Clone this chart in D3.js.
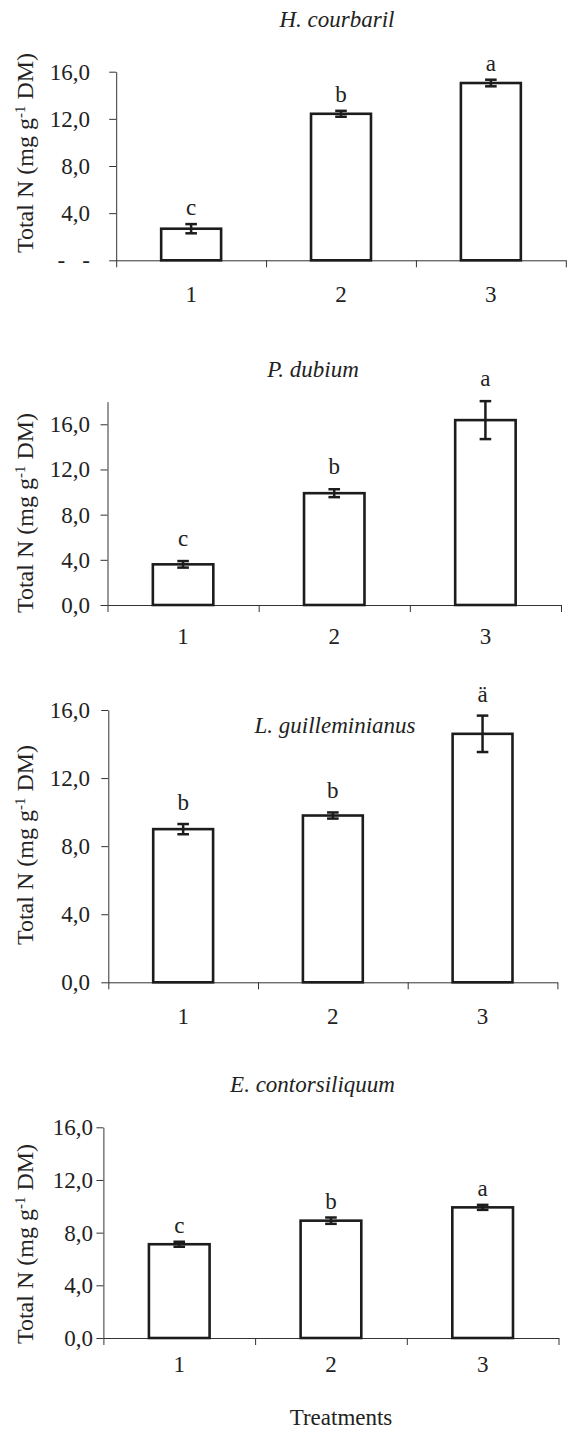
<!DOCTYPE html>
<html><head><meta charset="utf-8">
<script src="https://cdn.jsdelivr.net/npm/d3@7"></script>
<style>
html,body{margin:0;padding:0;background:#fff;}
svg{display:block;}
text{font-family:"Liberation Serif","Times New Roman",serif;fill:#222;}
</style></head>
<body>
<svg id="c" width="571" height="1429"></svg>
<script>
// ---- data ----
const categories = ["1", "2", "3"];
const species = ["H. courbaril", "P. dubium", "L. guilleminianus", "E. contorsiliquum"];
const meansHc = [2.68, 12.43, 15.04];
const errHc   = [0.39, 0.25, 0.28];
const letHc   = ["c", "b", "a"];
const meansPd = [3.6, 9.9, 16.37];
const errPd   = [0.29, 0.35, 1.68];
const letPd   = ["c", "b", "a"];
const meansLg = [9.0, 9.8, 14.6];
const errLg   = [0.3, 0.18, 1.07];
const letLg   = ["b", "b", "ä"];
const meansEc = [7.12, 8.91, 9.92];
const errEc   = [0.19, 0.24, 0.19];
const letEc   = ["c", "b", "a"];
const yTickValues = [0, 4, 8, 12, 16];
const yTickLabels = ["0,0", "4,0", "8,0", "12,0", "16,0"];
const yTickLabelsHc = ["-\u2002 -", "4,0", "8,0", "12,0", "16,0"];
const yMax = [16, 18, 16, 16];
const yTitle = "Total N (mg g";
const yTitleSup = "-1";
const yTitleEnd = " DM)";
const xTitle = "Treatments";

// ---- layout (positions only) ----
const layout = [
  {x0:116.2, x1:565.8, yTop:71.7,  yBot:260.3,  tx:337,   ty:27,     labR:90, ytc:153,  xlo:41.5, ld:9},
  {x0:107.5, x1:561,   yTop:401.7, yBot:605,    tx:313,   ty:377,    labR:90, ytc:513,  xlo:38.5, ld:15},
  {x0:108.3, x1:557.4, yTop:710,   yBot:982.3,  tx:335,   ty:733,    labR:90, ytc:845,  xlo:41.5, ld:14},
  {x0:103.4, x1:558.5, yTop:1127.3,yBot:1338,   tx:312.5, ty:1091.7, labR:93, ytc:1244, xlo:34,   ld:9}
];
const panels = [
  {means: meansHc, errs: errHc, letters: letHc, ticks: yTickLabelsHc},
  {means: meansPd, errs: errPd, letters: letPd, ticks: yTickLabels},
  {means: meansLg, errs: errLg, letters: letLg, ticks: yTickLabels},
  {means: meansEc, errs: errEc, letters: letEc, ticks: yTickLabels}
];

const svg = d3.select("#c");
const FS = 23;
const axisColor = "#333";
const barColor = "#1c1c1c";

panels.forEach((p, i) => {
  const L = layout[i];
  const g = svg.append("g");
  const x = d3.scaleBand().domain(categories).range([L.x0, L.x1]).padding(0);
  const xb = d3.scaleLinear().domain([0, categories.length]).range([L.x0, L.x1]);
  const y = d3.scaleLinear().domain([0, yMax[i]]).range([L.yBot, L.yTop]);
  const bw = x.bandwidth() * 0.4;

  // y axis
  const tickLen = 7;
  const ya = g.append("g").attr("transform", `translate(${L.x0},0)`)
    .call(d3.axisLeft(y).tickValues(yTickValues)
      .tickFormat((d, k) => p.ticks[k])
      .tickSize(tickLen).tickSizeOuter(0)
      .tickPadding(L.x0 - tickLen - L.labR));
  ya.selectAll("path,line").attr("stroke", axisColor).attr("stroke-width", 1);
  ya.selectAll("text").attr("font-size", FS).attr("font-family", null).style("white-space", "pre");

  // x axis boundary ticks
  const xa = g.append("g").attr("transform", `translate(0,${L.yBot})`)
    .call(d3.axisBottom(xb).tickValues(d3.range(categories.length + 1))
      .tickFormat("").tickSize(7).tickSizeOuter(0));
  xa.selectAll("path,line").attr("stroke", axisColor).attr("stroke-width", 1);

  // x category labels
  const xl = g.append("g").attr("transform", `translate(0,${L.yBot})`)
    .call(d3.axisBottom(x).tickSize(0).tickPadding(0));
  xl.select(".domain").remove();
  xl.selectAll("text").attr("font-size", FS).attr("font-family", null)
    .attr("dy", null).attr("y", L.xlo);

  // bars
  g.selectAll("rect.bar").data(p.means).join("rect")
    .attr("class", "bar")
    .attr("x", (d, k) => x(categories[k]) + (x.bandwidth() - bw) / 2)
    .attr("width", bw)
    .attr("y", d => y(d))
    .attr("height", d => y(0) - y(d))
    .attr("fill", "#fff").attr("stroke", barColor).attr("stroke-width", 2.6);

  // error bars
  const cx = k => x(categories[k]) + x.bandwidth() / 2;
  const eg = g.append("g").attr("stroke", barColor).attr("stroke-width", 2.5).attr("fill", "none");
  p.means.forEach((m, k) => {
    const e = p.errs[k];
    eg.append("line").attr("x1", cx(k)).attr("x2", cx(k)).attr("y1", y(m + e)).attr("y2", y(m - e));
    [m + e, m - e].forEach(v => eg.append("line")
      .attr("x1", cx(k) - 5.8).attr("x2", cx(k) + 5.8).attr("y1", y(v)).attr("y2", y(v)));
  });

  // significance letters
  g.selectAll("text.let").data(p.letters).join("text")
    .attr("class", "let")
    .attr("x", (d, k) => cx(k))
    .attr("y", (d, k) => y(p.means[k] + p.errs[k]) - L.ld)
    .attr("text-anchor", "middle").attr("font-size", FS)
    .text(d => d);

  // panel title
  g.append("text").attr("x", L.tx).attr("y", L.ty)
    .attr("text-anchor", "middle").attr("font-size", FS).attr("font-style", "italic")
    .text(species[i]);

  // y axis title
  const yt = g.append("text")
    .attr("transform", `translate(32.5,${L.ytc}) rotate(-90)`)
    .attr("text-anchor", "middle").attr("font-size", 24);
  yt.append("tspan").text(yTitle);
  yt.append("tspan").attr("font-size", 15).attr("dy", -8).text(yTitleSup);
  yt.append("tspan").attr("dy", 8).text(yTitleEnd);
});

svg.append("text").attr("x", 341).attr("y", 1425)
  .attr("text-anchor", "middle").attr("font-size", FS).text(xTitle);
</script>
</body></html>
